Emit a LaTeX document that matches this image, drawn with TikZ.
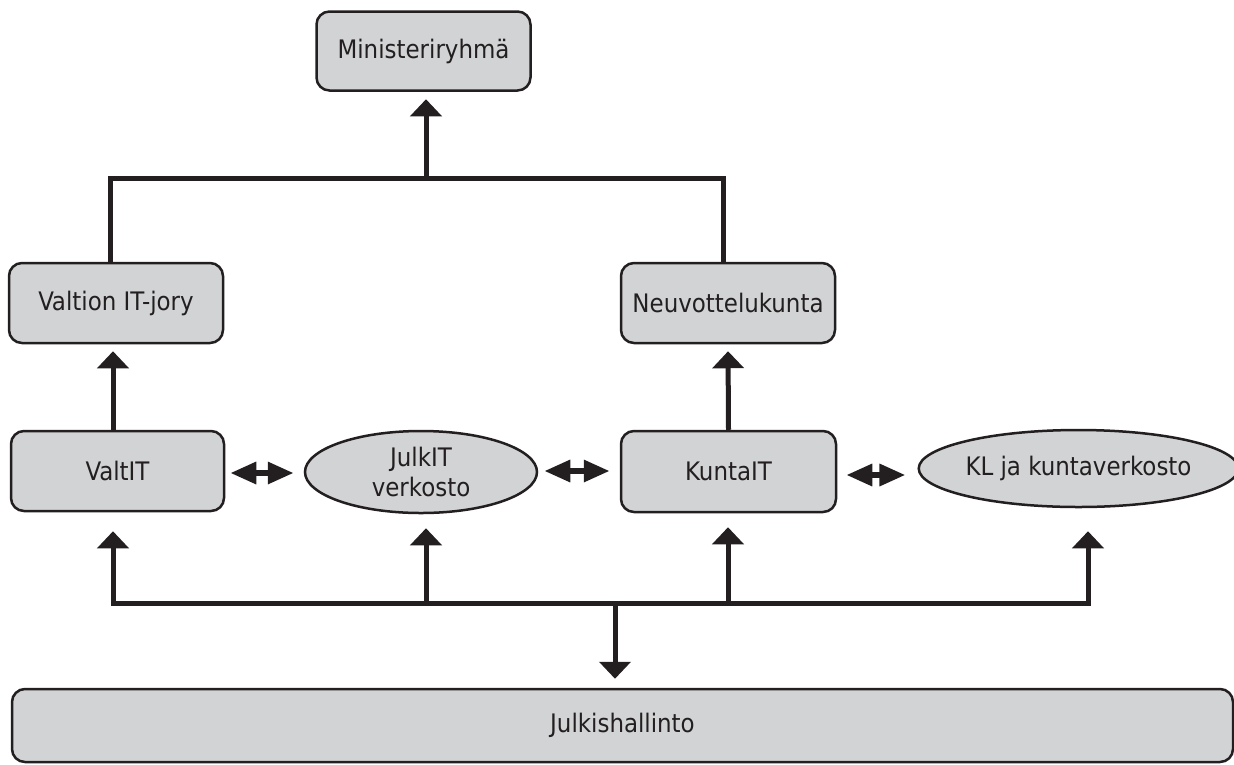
\documentclass[tikz,border=0pt]{standalone}
\usepackage{fontspec}
\setmainfont{DejaVu Sans Condensed}
\usetikzlibrary{arrows.meta,shapes.geometric}
\definecolor{boxfill}{HTML}{D1D3D4}
\definecolor{ink}{HTML}{231F20}
\begin{document}
\begin{tikzpicture}[x=1pt,y=-1pt,
  lbl/.style={font=\fontsize{25.5}{30}\selectfont, text=ink, align=center},
  box/.style={lbl, rectangle, draw=ink, fill=boxfill, line width=2.5pt, rounded corners=13pt, inner sep=0pt},
  oval/.style={lbl, ellipse, draw=ink, fill=boxfill, line width=2.5pt, inner sep=0pt},
  conn/.style={draw=ink, line width=5pt},
  tip/.style={-{Triangle[length=17pt,width=31pt]}},
  dbl/.style={draw=ink, line width=6pt, {Triangle[length=26pt,width=21pt]}-{Triangle[length=26pt,width=21pt]}}]
\useasboundingbox (0,0) rectangle (1234,764);
\node[box, minimum width=214pt, minimum height=79pt] (min) at (423.5,51) {Ministeriryhmä};
\node[box, minimum width=214pt, minimum height=80pt] (vit) at (116,303) {Valtion IT-jory};
\node[box, minimum width=214pt, minimum height=80pt] (neu) at (728,303) {Neuvottelukunta};
\node[box, minimum width=213pt, minimum height=80pt] (valt) at (117.5,471) {ValtIT};
\node[oval, minimum width=232pt, minimum height=82pt] (julk) at (421,472) {JulkIT\\verkosto};
\node[box, minimum width=215pt, minimum height=81pt] (kunta) at (728.5,471.5) {KuntaIT};
\node[oval, minimum width=309pt, minimum height=77pt] (kl) at (1078.5,468.5) {KL ja kuntaverkosto};
\node[box, minimum width=1221pt, minimum height=73pt] (jh) at (622.5,725.5) {Julkishallinto};
% top bus
\coordinate (tl) at (110,178);
\coordinate (tr) at (723,178);
\coordinate (tm) at (426,178);
\draw[conn] (vit.north -| tl) -- (tl) -- (tr) -- (neu.north -| tr);
\draw[conn, tip, shorten >=7.5pt] (tm) -- (min.south -| tm);
% middle arrows
\coordinate (va) at (113,431);
\draw[conn, tip, shorten >=7pt] (valt.north -| va) -- (vit.south -| va);
\draw[conn, tip, shorten >=7pt] (kunta.north) -- (neu.south);
% double arrows
\coordinate (d1) at (0,473);
\coordinate (d2) at (0,471);
\coordinate (d3) at (0,475);
\draw[dbl, shorten <=5pt, shorten >=10pt] (valt.east |- d1) -- (julk.west |- d1);
\draw[dbl, shorten <=6pt, shorten >=10pt] (julk.east |- d2) -- (kunta.west |- d2);
\draw[dbl, shorten <=9pt, shorten >=12pt] (kunta.east |- d3) -- (kl.west |- d3);
% bottom bus
\coordinate (bl) at (113,603);
\coordinate (br) at (1088,603);
\coordinate (bj) at (426,603);
\coordinate (bk) at (728,603);
\coordinate (bd) at (615,603);
\draw[conn, {Triangle[length=17pt,width=31pt]}-{Triangle[length=17pt,width=31pt]}, shorten <=19pt, shorten >=23pt]
  (bl |- valt.south) -- (bl) -- (br) -- (br |- kl.south);
\draw[conn, tip, shorten >=14pt] (bj) -- (bj |- julk.south);
\draw[conn, tip, shorten >=14pt] (bk) -- (bk |- kunta.south);
\draw[conn, tip, shorten >=9pt] (bd) -- (bd |- jh.north);
\end{tikzpicture}
\end{document}
